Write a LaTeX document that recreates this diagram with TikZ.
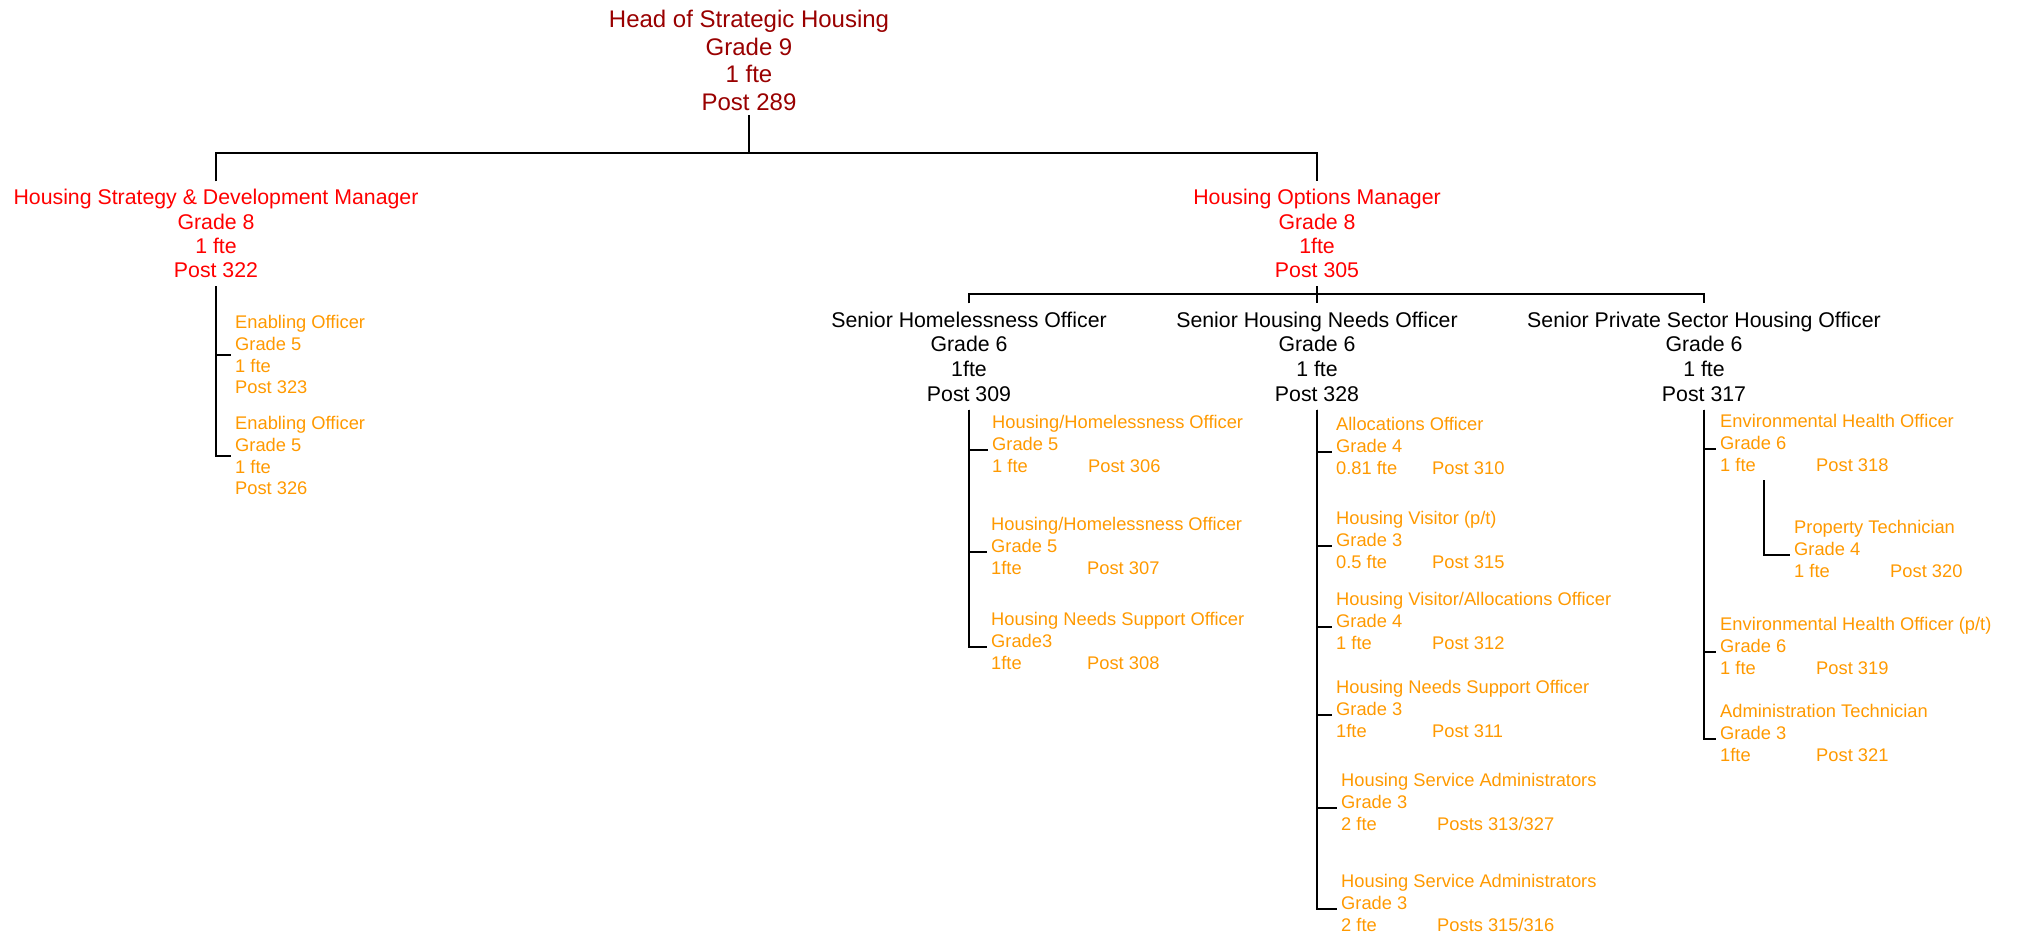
\documentclass[tikz,border=0pt]{standalone}
\usepackage{fontspec}
\setmainfont{Liberation Sans}
\usepackage{xcolor}
\definecolor{headpost}{RGB}{153, 0, 0}
\definecolor{mgrpost}{RGB}{255, 0, 0}
\definecolor{staffpost}{RGB}{255, 153, 0}
\newcommand{\ftepost}[2]{\makebox[96pt][l]{#1}#2}

\begin{document}
\begin{tikzpicture}[x=1pt, y=-1pt,
		headbox/.style={align=center, anchor=base, inner xsep=0pt, inner ysep=4pt, text=headpost, font=\fontsize{24}{27.7}\selectfont},
		mgrbox/.style={align=center, anchor=base, inner xsep=0pt, inner ysep=8pt, text=mgrpost, font=\fontsize{21.3}{24.3}\selectfont},
		seniorbox/.style={align=center, anchor=base, inner xsep=0pt, inner ysep=8pt, text=black, font=\fontsize{21.3}{24.7}\selectfont},
		staffbox/.style={align=left, anchor=base west, inner xsep=4pt, inner ysep=0pt, text=staffpost, font=\fontsize{18.3}{21.7}\selectfont},
		orgline/.style={draw=black, line width=2pt}]
			\useasboundingbox (0,0) rectangle (2020,933);
			\def\tk{6}

			% Head and managers (placed at the baseline of the last line)
			\node[headbox] (head) at (749, 110.7) {Head of Strategic Housing\\Grade 9\\1 fte\\Post 289};
			\node[mgrbox] (hsdm) at (216, 277.9) {Housing Strategy \& Development Manager\\Grade 8\\1 fte\\Post 322};
			\node[mgrbox] (hom) at (1317, 277.9) {Housing Options Manager\\Grade 8\\1fte\\Post 305};

			% Senior officers
			\node[seniorbox] (sho) at (969, 401.1) {Senior Homelessness Officer\\Grade 6\\1fte\\Post 309};
			\node[seniorbox] (shno) at (1317, 401.1) {Senior Housing Needs Officer\\Grade 6\\1 fte\\Post 328};
			\node[seniorbox] (spsho) at (1704, 401.1) {Senior Private Sector Housing Officer\\Grade 6\\1 fte\\Post 317};

			% Strategy team
			\node[staffbox] (en1) at (231, 393.7) {Enabling Officer\\Grade 5\\1 fte\\Post 323};
			\node[staffbox] (en2) at (231, 494.7) {Enabling Officer\\Grade 5\\1 fte\\Post 326};

			% Homelessness team
			\node[staffbox] (hho1) at (988, 472) {Housing/Homelessness Officer\\Grade 5\\\ftepost{1 fte}{Post 306}};
			\node[staffbox] (hho2) at (987, 574) {Housing/Homelessness Officer\\Grade 5\\\ftepost{1fte}{Post 307}};
			\node[staffbox] (hnso1) at (987, 669) {Housing Needs Support Officer\\Grade3\\\ftepost{1fte}{Post 308}};

			% Housing needs team
			\node[staffbox] (alloc) at (1332, 474) {Allocations Officer\\Grade 4\\\ftepost{0.81 fte}{Post 310}};
			\node[staffbox] (hv) at (1332, 568) {Housing Visitor (p/t)\\Grade 3\\\ftepost{0.5 fte}{Post 315}};
			\node[staffbox] (hvao) at (1332, 649) {Housing Visitor/Allocations Officer\\Grade 4\\\ftepost{1 fte}{Post 312}};
			\node[staffbox] (hnso2) at (1332, 737) {Housing Needs Support Officer\\Grade 3\\\ftepost{1fte}{Post 311}};
			\node[staffbox] (hsa1) at (1337, 830) {Housing Service Administrators\\Grade 3\\\ftepost{2 fte}{Posts 313/327}};
			\node[staffbox] (hsa2) at (1337, 931) {Housing Service Administrators\\Grade 3\\\ftepost{2 fte}{Posts 315/316}};

			% Private sector team
			\node[staffbox] (eho1) at (1716, 471) {Environmental Health Officer\\Grade 6\\\ftepost{1 fte}{Post 318}};
			\node[staffbox] (ptech) at (1790, 577) {Property Technician\\Grade 4\\\ftepost{1 fte}{Post 320}};
			\node[staffbox] (eho2) at (1716, 674) {Environmental Health Officer (p/t)\\Grade 6\\\ftepost{1 fte}{Post 319}};
			\node[staffbox] (admin) at (1716, 761) {Administration Technician\\Grade 3\\\ftepost{1fte}{Post 321}};

			% Bars
			\coordinate (bar1) at (749, 153);
			\coordinate (bar2) at (1317, 294);
			\coordinate (ptop) at (1764, 480);

			\draw[orgline] (head.south) -- (bar1);
			\draw[orgline] (hsdm.north) |- (bar1) -| (hom.north);
			\draw[orgline] (hom.south) -- (shno.north);
			\draw[orgline] (sho.north) |- (bar2) -| (spsho.north);

			\draw[orgline] (hsdm.south) |- (en1.west);
			\draw[orgline] (hsdm.south) |- (en2.west);

			\draw[orgline] (sho.south) |- ([yshift=-\tk]hho1.west);
			\draw[orgline] (sho.south) |- ([yshift=-\tk]hho2.west);
			\draw[orgline] (sho.south) |- ([yshift=-\tk]hnso1.west);

			\draw[orgline] (shno.south) |- ([yshift=-\tk]alloc.west);
			\draw[orgline] (shno.south) |- ([yshift=-\tk]hv.west);
			\draw[orgline] (shno.south) |- ([yshift=-\tk]hvao.west);
			\draw[orgline] (shno.south) |- ([yshift=-\tk]hnso2.west);
			\draw[orgline] (shno.south) |- ([yshift=-\tk]hsa1.west);
			\draw[orgline] (shno.south) |- ([yshift=-\tk]hsa2.west);

			\draw[orgline] (spsho.south) |- ([yshift=-\tk]eho1.west);
			\draw[orgline] (spsho.south) |- ([yshift=-\tk]eho2.west);
			\draw[orgline] (spsho.south) |- ([yshift=-\tk]admin.west);
			\draw[orgline] (ptop) |- ([yshift=-\tk]ptech.west);

		\end{tikzpicture}
\end{document}
